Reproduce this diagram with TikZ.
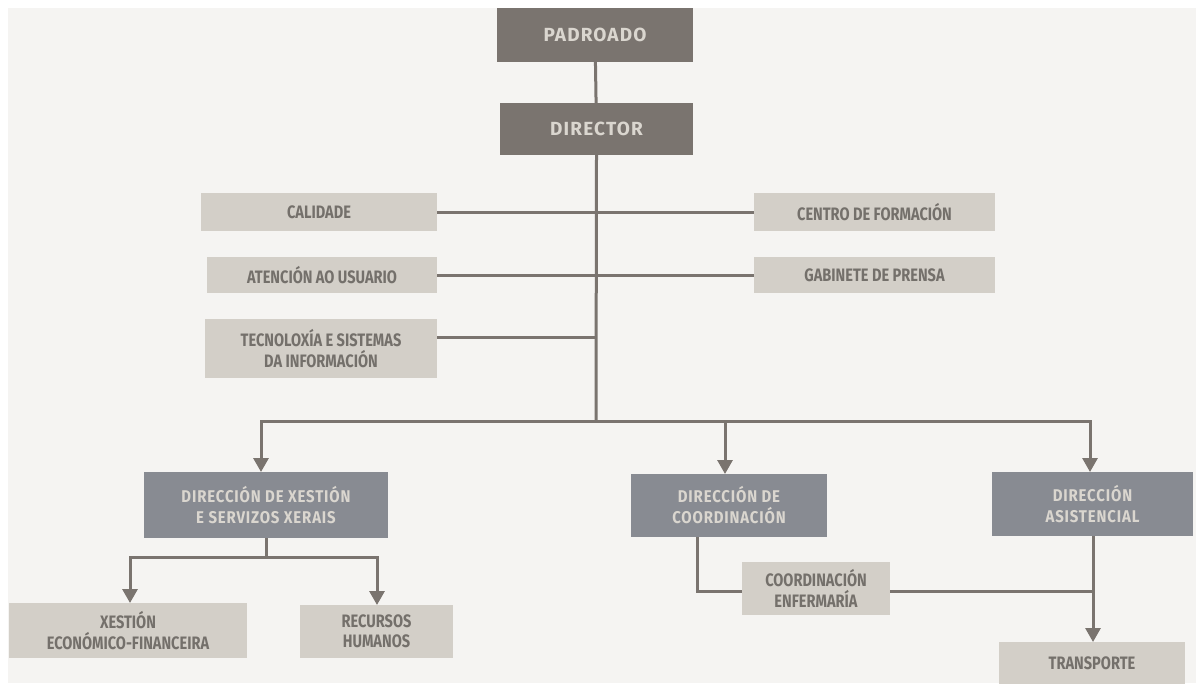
\documentclass[tikz,border=0pt]{standalone}
\usepackage{fontspec}
\setmainfont{Fira Sans}
\newfontfamily\lightfont{Fira Sans}[FakeStretch=0.81]
\newfontfamily\darkfont{Fira Sans}[FakeStretch=0.88,LetterSpace=5]
\newfontfamily\topfont{Fira Sans}[LetterSpace=6]
\usetikzlibrary{arrows.meta,positioning,calc}
\definecolor{bgc}{HTML}{F5F4F2}
\definecolor{topc}{HTML}{7A746F}
\definecolor{midc}{HTML}{888B92}
\definecolor{lboxc}{HTML}{D3CFC8}
\definecolor{ltxt}{HTML}{74706B}
\definecolor{dtxt}{HTML}{DAD6CF}
\definecolor{linec}{HTML}{7A746F}
\tikzset{
  box/.style={inner sep=0pt,outer sep=0pt,align=center,font=\fontsize{16}{20}\selectfont\bfseries},
  topbox/.style={box,fill=topc,text=dtxt,font=\fontsize{19}{20}\selectfont\topfont\bfseries},
  midbox/.style={box,fill=midc,text=dtxt,font=\fontsize{17}{21}\selectfont\darkfont\bfseries},
  lbox/.style={box,fill=lboxc,text=ltxt,font=\fontsize{18}{20.5}\selectfont\lightfont\bfseries},
  conn/.style={draw=linec,line width=3pt},
  arr/.style={conn,-{Triangle[width=15pt,length=14pt]}},
  sz/.style n args={2}{minimum width=#1pt,minimum height=#2pt}
}
\begin{document}
\begin{tikzpicture}[x=1pt,y=-1pt]
\useasboundingbox (0,0) rectangle (1198,683);
\fill[white] (0,0) rectangle (1198,683);
\fill[bgc] (8,8) rectangle (1196,683);
% nodes
\node[topbox,sz={196}{54}] (pad) at (595,35) {PADROADO};
\node[topbox,sz={193}{52}] (dir) at (596.5,129) {DIRECTOR};
\node[lbox,sz={236}{38}] (cal) at (319,212) {CALIDADE};
\node[lbox,sz={241}{38}] (cen) at (874.5,212) {CENTRO DE FORMACIÓN};
\node[lbox,sz={230}{36}] (ate) at (322,275) {ATENCIÓN AO USUARIO};
\node[lbox,sz={241}{36}] (gab) at (874.5,275) {GABINETE DE PRENSA};
\node[lbox,sz={232}{59}] (tec) at (321,348.5) {TECNOLOXÍA E SISTEMAS\\DA INFORMACIÓN};
\node[midbox,sz={244}{66}] (dxs) at (266,505) {DIRECCIÓN DE XESTIÓN\\E SERVIZOS XERAIS};
\node[midbox,sz={196}{63}] (dco) at (729,505.5) {DIRECCIÓN DE\\COORDINACIÓN};
\node[midbox,sz={201}{64}] (das) at (1092.5,504) {DIRECCIÓN\\ASISTENCIAL};
\node[lbox,sz={238}{55}] (xef) at (128,630.5) {XESTIÓN\\ECONÓMICO-FINANCEIRA};
\node[lbox,sz={153}{53}] (rhu) at (376.5,631.5) {RECURSOS\\HUMANOS};
\node[lbox,sz={148}{53}] (cen2) at (816,588.5) {COORDINACIÓN\\ENFERMARÍA};
\node[lbox,sz={186}{42}] (tra) at (1092,663) {TRANSPORTE};
% junction coordinates
\coordinate (t1) at (596,212);
\coordinate (t2) at (596,275);
\coordinate (t3) at (596,337);
\coordinate (bus) at (596,421);
\coordinate (busL) at (261,421);
\coordinate (busM) at (725,421);
\coordinate (busR) at (1090,421);
\coordinate (sub) at (266,557);
\coordinate (subL) at (130,557);
\coordinate (subR) at (377,557);
\coordinate (dcoA) at (697,537);
\coordinate (dcoB) at (697,591);
\coordinate (dasJ) at (1093,591);
% connectors
\draw[conn] (pad) -- (dir);
\draw[conn] (dir.south) -- (bus);
\draw[conn] (t1) -- (cal.east |- t1);
\draw[conn] (t1) -- (cen.west |- t1);
\draw[conn] (t2) -- (ate.east |- t2);
\draw[conn] (t2) -- (gab.west |- t2);
\draw[conn] (t3) -- (tec.east |- t3);
\draw[conn,line cap=rect] (busL) -- (busR);
\draw[arr] (busL) -- (busL |- dxs.north);
\draw[arr] (busM) -- (busM |- dco.north);
\draw[arr] (busR) -- (busR |- das.north);
\draw[conn] (dxs.south) -- (sub);
\draw[conn,line cap=rect] (subL) -- (subR);
\draw[arr] (subL) -- (subL |- xef.north);
\draw[arr] (subR) -- (subR |- rhu.north);
\draw[conn] (dcoA) -- (dcoB) -- (cen2.west |- dcoB);
\draw[conn] (cen2.east |- dasJ) -- (dasJ);
\draw[arr] (das.south -| dasJ) -- (dasJ |- tra.north);
\end{tikzpicture}
\end{document}
